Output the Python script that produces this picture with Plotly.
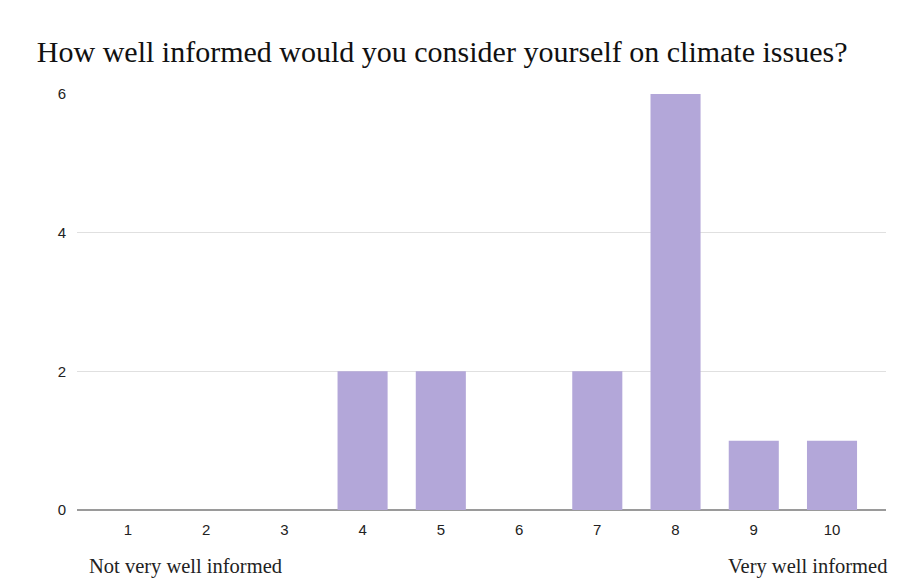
import plotly.graph_objects as go

categories = ["1", "2", "3", "4", "5", "6", "7", "8", "9", "10"]
counts = [0, 0, 0, 2, 2, 0, 2, 6, 1, 1]
y_ticks = [0, 2, 4, 6]

fig = go.Figure()
fig.add_trace(go.Bar(
    x=list(range(len(categories))), y=counts,
    marker=dict(color="#b3a7d9", line=dict(width=0)),
    width=0.64,
))

fig.update_layout(
    width=899, height=586,
    margin=dict(l=77, r=13, t=94, b=76),
    paper_bgcolor="white", plot_bgcolor="white",
    showlegend=False,
    title=dict(
        text="How well informed would you consider yourself on climate issues?",
        font=dict(family="Liberation Serif, Times New Roman, serif", size=30, color="#111"),
        x=0.041, xanchor="left", y=0.912, yanchor="middle",
    ),
    xaxis=dict(
        range=[-0.65, 9.69],
        tickmode="array", tickvals=list(range(len(categories))), ticktext=categories,
        showgrid=False, zeroline=False,
        showline=False, ticks="", ticklabelstandoff=9,
        tickfont=dict(family="Liberation Sans, Arial, sans-serif", size=15, color="#222"),
    ),
    yaxis=dict(
        range=[0, 6], tickvals=y_ticks,
        showgrid=True, gridcolor="#e0e0e0", gridwidth=1,
        zeroline=True, zerolinecolor="#9a9a9a", zerolinewidth=1.5,
        ticks="", ticklabelstandoff=10,
        tickfont=dict(family="Liberation Sans, Arial, sans-serif", size=15, color="#222"),
    ),
    annotations=[
        dict(text="Not very well informed", xref="paper", yref="paper",
             x=(87 - 77) / 809, y=-(566 - 510) / 416, xanchor="left", yanchor="middle",
             showarrow=False,
             font=dict(family="Liberation Serif, Times New Roman, serif", size=20.5, color="#222")),
        dict(text="Very well informed", xref="paper", yref="paper",
             x=(889 - 77) / 809, y=-(566 - 510) / 416, xanchor="right", yanchor="middle",
             showarrow=False,
             font=dict(family="Liberation Serif, Times New Roman, serif", size=20.5, color="#222")),
    ],
)

fig.write_html("out.html")
